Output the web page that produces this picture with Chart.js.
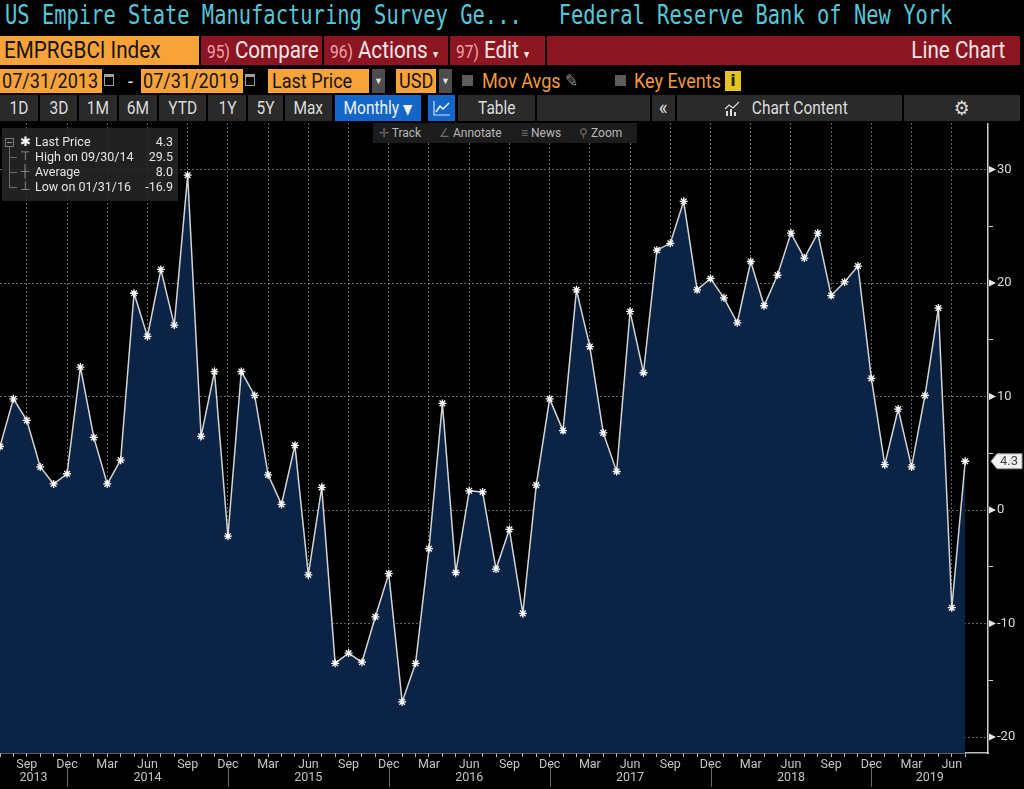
<!DOCTYPE html>
<html>
<head>
<meta charset="utf-8">
<title>EMPRGBCI Index - Line Chart</title>
<script src="https://cdn.jsdelivr.net/npm/chart.js@4.4.1/dist/chart.umd.min.js"></script>
<style>
  body { margin: 0; width: 1024px; height: 789px; background: #000; overflow: hidden; position: relative; font-family: Roboto, "Noto Sans", sans-serif; }
  .box { position: absolute; }
  .t { position: absolute; white-space: pre; transform: scaleX(0.86); transform-origin: 0 50%; }
  .orange { background: #f8a23a; }
  .red { background: #8b1521; }
  .num { font-size: 18px; color: #f3a3ad; }
  .seg { position: absolute; top: 95px; height: 26px; background: #2a2a2a; color: #dcdcdc; font-size: 18px; line-height: 26px; text-align: center; white-space: nowrap; overflow: hidden; }
  .seg span { display: inline-block; transform: scaleX(0.86); white-space: nowrap; }
  .blue { background: #1467c9; color: #f2f2f2; }
  .drop { position: absolute; top: 69px; width: 13px; height: 24px; background: #4d4d4d; color: #e0e0e0; font-size: 9px; line-height: 24px; text-align: center; }
  .chk { position: absolute; top: 75px; width: 11px; height: 11px; background: #5c5c5c; }
  .cal { position: absolute; top: 74px; width: 8px; height: 8px; border: 1px solid #a0a0a0; border-top-width: 3px; }
  #title { position: absolute; left: 5px; top: 0; height: 36px; line-height: 36px; font: 26px "DejaVu Sans Mono", monospace; color: #57c6d6; white-space: pre; transform: scaleX(0.786); transform-origin: 0 0; }
  #chartWrap { position: absolute; left: 0; top: 123px; width: 1024px; height: 666px; }
  #tools { position: absolute; left: 373px; top: 123px; width: 264px; height: 20px; background: #1c1c1c; color: #b8b8b8; font-size: 12px; line-height: 20px; }
  #tools span { position: absolute; white-space: pre; }
  #tools i { font-style: normal; color: #707070; }
  #legend { position: absolute; left: 2px; top: 128px; width: 176px; height: 73px; background: rgba(38, 38, 38, 0.88); color: #e4e4e4; font-size: 12.5px; }
  #legend .row { position: absolute; left: 33px; width: 138px; height: 15px; line-height: 15px; white-space: pre; }
  #legend .row b { position: absolute; right: 0; top: 0; font-weight: normal; }
  #legend .sym { position: absolute; left: 17px; width: 12px; height: 15px; line-height: 15px; text-align: center; color: #9a9a9a; font-size: 12px; }
  #legend .ln { position: absolute; background: #6e6e6e; }
</style>
</head>
<body>

<div id="title">US Empire State Manufacturing Survey Ge...   Federal Reserve Bank of New York</div>

<!-- row 2 -->
<div class="box orange" style="left:0;top:36px;width:199px;height:29px"></div>
<div class="t" style="left:4px;top:36px;line-height:29px;font-size:24px;color:#141414">EMPRGBCI Index</div>
<div class="box red" style="left:201px;top:36px;width:121px;height:29px"></div>
<div class="t" style="left:207px;top:36px;line-height:29px;font-size:24px;color:#f5e6e6"><span class="num">95)</span> Compare</div>
<div class="box red" style="left:324px;top:36px;width:124px;height:29px"></div>
<div class="t" style="left:330px;top:36px;line-height:29px;font-size:24px;color:#f5e6e6"><span class="num">96)</span> Actions <span style="font-size:12px">▾</span></div>
<div class="box red" style="left:450px;top:36px;width:95px;height:29px"></div>
<div class="t" style="left:456px;top:36px;line-height:29px;font-size:24px;color:#f5e6e6"><span class="num">97)</span> Edit <span style="font-size:12px">▾</span></div>
<div class="box red" style="left:547px;top:36px;width:473px;height:29px"></div>
<div class="t" style="right:19px;top:36px;line-height:29px;font-size:24px;color:#f5e6e6;transform-origin:100% 50%">Line Chart</div>

<!-- row 3 -->
<div class="box orange" style="left:0;top:69px;width:102px;height:24px"></div>
<div class="t" style="left:2px;top:69px;line-height:24px;font-size:21px;color:#141414">07/31/2013</div>
<div class="cal" style="left:104px"></div>
<div class="t" style="left:128px;top:69px;line-height:24px;font-size:21px;color:#e0e0e0">-</div>
<div class="box orange" style="left:141px;top:69px;width:102px;height:24px"></div>
<div class="t" style="left:143px;top:69px;line-height:24px;font-size:21px;color:#141414">07/31/2019</div>
<div class="cal" style="left:245px"></div>
<div class="box orange" style="left:268px;top:69px;width:101px;height:24px"></div>
<div class="t" style="left:272px;top:69px;line-height:24px;font-size:21px;color:#141414">Last Price</div>
<div class="drop" style="left:372px">▼</div>
<div class="box orange" style="left:396px;top:69px;width:40px;height:24px"></div>
<div class="t" style="left:399px;top:69px;line-height:24px;font-size:21px;color:#141414">USD</div>
<div class="drop" style="left:439px">▼</div>
<div class="chk" style="left:462px"></div>
<div class="t" style="left:482px;top:69px;line-height:24px;font-size:21px;color:#f19a3e">Mov Avgs</div>
<div class="t" style="left:565px;top:69px;line-height:24px;font-size:18px;color:#8a8a8a">✎</div>
<div class="chk" style="left:615px"></div>
<div class="t" style="left:634px;top:69px;line-height:24px;font-size:21px;color:#f19a3e">Key Events</div>
<div class="box" style="left:725px;top:71px;width:16px;height:20px;background:#e6c41e;color:#222;font:bold 16px/20px 'DejaVu Sans',sans-serif;text-align:center">i</div>

<!-- row 4 -->
<div class="seg" style="left:0;width:38px"><span>1D</span></div>
<div class="seg" style="left:40px;width:37px"><span>3D</span></div>
<div class="seg" style="left:79px;width:38px"><span>1M</span></div>
<div class="seg" style="left:119px;width:38px"><span>6M</span></div>
<div class="seg" style="left:159px;width:47px"><span>YTD</span></div>
<div class="seg" style="left:208px;width:38px"><span>1Y</span></div>
<div class="seg" style="left:248px;width:35px"><span>5Y</span></div>
<div class="seg" style="left:285px;width:47px"><span>Max</span></div>
<div class="seg blue" style="left:335px;width:86px"><span>Monthly <b style="font:14px 'DejaVu Sans',sans-serif">▼</b></span></div>
<div class="seg blue" style="left:428px;width:27px">
  <svg width="18" height="16" viewBox="0 0 18 16" style="margin-top:5px"><polyline points="1,1 1,15 17,15" fill="none" stroke="#cfe0ff" stroke-width="1.2"/><polyline points="3,12 7,6 10,9 16,3" fill="none" stroke="#ffffff" stroke-width="1.4"/></svg>
</div>
<div class="seg" style="left:458px;width:77px"><span>Table</span></div>
<div class="seg" style="left:537px;width:113px"></div>
<div class="seg" style="left:652px;width:23px;font-size:22px"><span>«</span></div>
<div class="seg" style="left:677px;width:225px">
  <svg width="16" height="15" viewBox="0 0 16 15" style="vertical-align:-2px"><polyline points="1,8 5,4 9,7 15,1" fill="none" stroke="#dcdcdc" stroke-width="1.2"/><rect x="2" y="10" width="2" height="5" fill="#dcdcdc"/><rect x="6" y="8" width="2" height="7" fill="#dcdcdc"/><rect x="10" y="11" width="2" height="4" fill="#dcdcdc"/></svg>
  <span>Chart Content</span>
</div>
<div class="seg" style="left:904px;width:116px;font-size:20px"><span>⚙</span></div>

<div id="chartWrap"><canvas id="chart"></canvas></div>

<div id="tools">
  <span style="left:6px"><i>✛</i> Track</span>
  <span style="left:66px"><i>∠</i> Annotate</span>
  <span style="left:148px"><i>≡</i> News</span>
  <span style="left:206px"><i>⚲</i> Zoom</span>
</div>

<div id="legend">
  <div class="ln" style="left:3px;top:10px;width:9px;height:9px;background:none;border:1px solid #7a7a7a;box-sizing:border-box"></div>
  <div class="ln" style="left:5px;top:14px;width:5px;height:1px;background:#9a9a9a"></div>
  <div class="ln" style="left:7px;top:19px;width:1px;height:41px"></div>
  <div class="ln" style="left:7px;top:29px;width:8px;height:1px"></div>
  <div class="ln" style="left:7px;top:44px;width:8px;height:1px"></div>
  <div class="ln" style="left:7px;top:59px;width:8px;height:1px"></div>
  <div class="sym" style="top:6px;color:#ffffff;font-size:13px">✱</div>
  <div class="sym" style="top:21px">⊤</div>
  <div class="sym" style="top:36px">┼</div>
  <div class="sym" style="top:51px">⊥</div>
  <div class="row" style="top:6px">Last Price<b>4.3</b></div>
  <div class="row" style="top:21px">High on 09/30/14<b>29.5</b></div>
  <div class="row" style="top:36px">Average<b>8.0</b></div>
  <div class="row" style="top:51px">Low on 01/31/16<b>-16.9</b></div>
</div>

<script>
// month-end observations, Jul 2013 .. Jul 2019
const months = [
  'Jul 2013', 'Aug 2013', 'Sep 2013', 'Oct 2013', 'Nov 2013', 'Dec 2013',
  'Jan 2014', 'Feb 2014', 'Mar 2014', 'Apr 2014', 'May 2014', 'Jun 2014', 'Jul 2014', 'Aug 2014', 'Sep 2014', 'Oct 2014', 'Nov 2014', 'Dec 2014',
  'Jan 2015', 'Feb 2015', 'Mar 2015', 'Apr 2015', 'May 2015', 'Jun 2015', 'Jul 2015', 'Aug 2015', 'Sep 2015', 'Oct 2015', 'Nov 2015', 'Dec 2015',
  'Jan 2016', 'Feb 2016', 'Mar 2016', 'Apr 2016', 'May 2016', 'Jun 2016', 'Jul 2016', 'Aug 2016', 'Sep 2016', 'Oct 2016', 'Nov 2016', 'Dec 2016',
  'Jan 2017', 'Feb 2017', 'Mar 2017', 'Apr 2017', 'May 2017', 'Jun 2017', 'Jul 2017', 'Aug 2017', 'Sep 2017', 'Oct 2017', 'Nov 2017', 'Dec 2017',
  'Jan 2018', 'Feb 2018', 'Mar 2018', 'Apr 2018', 'May 2018', 'Jun 2018', 'Jul 2018', 'Aug 2018', 'Sep 2018', 'Oct 2018', 'Nov 2018', 'Dec 2018',
  'Jan 2019', 'Feb 2019', 'Mar 2019', 'Apr 2019', 'May 2019', 'Jun 2019', 'Jul 2019'
];

const values = [
  5.6, 9.8, 7.9, 3.8, 2.3, 3.2,
  12.6, 6.4, 2.3, 4.4, 19.1, 15.3, 21.2, 16.3, 29.5, 6.5, 12.2, -2.3,
  12.2, 10.1, 3.1, 0.5, 5.7, -5.7, 2.0, -13.5, -12.6, -13.4, -9.4, -5.6,
  -16.9, -13.5, -3.4, 9.4, -5.5, 1.7, 1.6, -5.2, -1.7, -9.1, 2.2, 9.8,
  7.0, 19.4, 14.4, 6.8, 3.4, 17.5, 12.1, 22.9, 23.5, 27.2, 19.4, 20.4,
  18.7, 16.5, 21.9, 18.0, 20.7, 24.4, 22.2, 24.4, 18.9, 20.1, 21.5, 11.6,
  4.0, 8.9, 3.8, 10.1, 17.8, -8.6, 4.3
];

const xTickMonths = ['Mar', 'Jun', 'Sep', 'Dec'];
const yTicks = [-20, -15, -10, -5, 0, 5, 10, 15, 20, 25, 30];
const yLabelled = [-20, -10, 0, 10, 20, 30];

const xMax = 73.7;
const yMin = -21.4;
const yMax = 34.1;
const gridColor = 'rgba(190, 200, 215, 0.5)';

Chart.defaults.font.family = 'Roboto, "Noto Sans", sans-serif';

function isQuarter(i) {
  return months[i] !== undefined && xTickMonths.includes(months[i].split(' ')[0]);
}

// keep the plot flush with the canvas edges
function noPadding(s) {
  s.paddingTop = 0;
  s.paddingBottom = 0;
  s.paddingLeft = 0;
  s.paddingRight = 0;
}

// axis pointers, year captions and the last price tag
const bbgExtras = {
  id: 'bbgExtras',
  afterDraw(chart) {
    const { ctx, scales: { x, y } } = chart;
    ctx.save();

    ctx.fillStyle = '#e8e8e8';
    yLabelled.forEach(v => {
      const py = y.getPixelForValue(v);
      ctx.beginPath();
      ctx.moveTo(y.left + 1, py - 3.5);
      ctx.lineTo(y.left + 8, py);
      ctx.lineTo(y.left + 1, py + 3.5);
      ctx.closePath();
      ctx.fill();
    });

    ctx.font = '12.5px Roboto';
    ctx.textAlign = 'center';
    ctx.textBaseline = 'middle';
    ctx.strokeStyle = '#6a6a6a';
    ctx.lineWidth = 1;
    const years = [...new Set(months.map(m => m.split(' ')[1]))];
    years.forEach(yr => {
      const first = months.findIndex(m => m.endsWith(yr));
      let last = first;
      while (last + 1 < months.length && months[last + 1].endsWith(yr)) last++;
      const isDec = months[last].startsWith('Dec');
      const left = first === 0 ? x.left : x.getPixelForValue(first - 1);
      const right = isDec ? x.getPixelForValue(last) : x.right;
      ctx.fillStyle = '#c4c4c4';
      ctx.fillText(yr, (left + right) / 2, x.top + 25);
      if (isDec) {
        const px = Math.round(right) + 0.5;
        ctx.beginPath();
        ctx.moveTo(px, x.top + 12);
        ctx.lineTo(px, x.bottom - 2);
        ctx.stroke();
      }
    });

    const lastVal = values[values.length - 1];
    const py = y.getPixelForValue(lastVal);
    const tx = y.left + 3;
    ctx.beginPath();
    ctx.moveTo(tx, py);
    ctx.lineTo(tx + 6, py - 7.5);
    ctx.lineTo(tx + 31, py - 7.5);
    ctx.lineTo(tx + 31, py + 7.5);
    ctx.lineTo(tx + 6, py + 7.5);
    ctx.closePath();
    ctx.fillStyle = '#f2f2f2';
    ctx.fill();
    ctx.strokeStyle = '#9a9a9a';
    ctx.stroke();
    ctx.fillStyle = '#444';
    ctx.textAlign = 'left';
    ctx.font = '13px Roboto';
    ctx.fillText(lastVal.toFixed(1), tx + 9, py + 0.5);

    ctx.restore();
  }
};

new Chart(document.getElementById('chart'), {
  type: 'line',
  data: {
    datasets: [{
      label: 'EMPRGBCI Index',
      data: values.map((v, i) => ({ x: i, y: v })),
      borderColor: '#d4d4d4',
      borderWidth: 1.5,
      backgroundColor: '#0b2344',
      fill: 'start',
      tension: 0,
      pointStyle: 'star',
      pointRadius: 4,
      pointBorderColor: '#ffffff',
      pointBorderWidth: 1.3
    }]
  },
  options: {
    responsive: true,
    maintainAspectRatio: false,
    animation: false,
    layout: { padding: 0, autoPadding: false },
    plugins: {
      legend: { display: false },
      tooltip: { enabled: false }
    },
    scales: {
      x: {
        type: 'linear',
        min: 0,
        max: xMax,
        z: 1,
        afterBuildTicks: s => { s.ticks = months.map((m, i) => ({ value: i })); },
        afterFit: s => { s.height = 36; noPadding(s); },
        grid: {
          color: c => (c.tick && isQuarter(c.tick.value)) ? gridColor : 'transparent',
          tickColor: '#bdbdbd',
          tickLength: 4
        },
        border: { color: '#bdbdbd', width: 1.5, dash: [2, 2] },
        ticks: {
          autoSkip: false,
          maxRotation: 0,
          minRotation: 0,
          padding: 0,
          color: '#c4c4c4',
          font: { size: 12.5 },
          callback: v => isQuarter(v) ? months[v].split(' ')[0] : ''
        }
      },
      y: {
        position: 'right',
        min: yMin,
        max: yMax,
        z: 1,
        afterBuildTicks: s => { s.ticks = yTicks.map(v => ({ value: v })); },
        afterFit: s => { s.width = 36; noPadding(s); },
        grid: {
          color: c => (c.tick && yLabelled.includes(c.tick.value)) ? gridColor : 'transparent',
          tickColor: c => (c.tick && yLabelled.includes(c.tick.value)) ? 'transparent' : '#cfcfcf',
          tickLength: 5
        },
        border: { color: '#cfcfcf', width: 1.5, dash: [2, 2] },
        ticks: {
          padding: 4,
          color: '#dcdcdc',
          font: { size: 13 },
          callback: v => yLabelled.includes(v) ? v : ''
        }
      }
    }
  },
  plugins: [bbgExtras]
});
</script>
</body>
</html>
